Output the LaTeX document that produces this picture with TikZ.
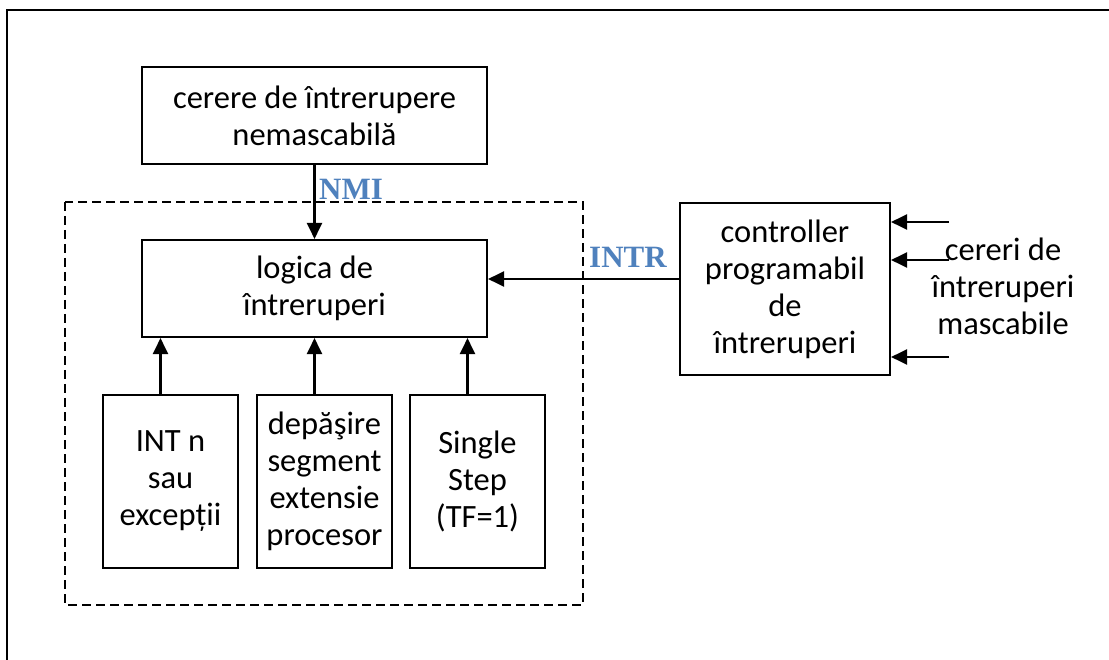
\documentclass[tikz,border=0pt]{standalone}
\usepackage{fontspec}
\setmainfont{Carlito}
\newfontfamily\lblfont{Liberation Serif}
\usetikzlibrary{arrows.meta}
\definecolor{sigblue}{HTML}{4F81BD}

\begin{document}
\begin{tikzpicture}[x=1pt, y=-1pt,
		blk/.style={draw, line width=2.1pt, align=center, inner sep=2pt,
			font=\fontsize{32.5}{37}\selectfont},
		arr/.style={line width=2.1pt, -{Triangle[length=16pt,width=15pt]}},
		sig/.style={text=sigblue, font=\lblfont\fontsize{31}{34}\selectfont\bfseries}]
		\useasboundingbox (0,0) rectangle (1109,660);
		\draw [line width=2.4pt] (7,662) -- (7,10) -- (1111,10);

		% processor frame
		\draw [line width=1.8pt, dash pattern=on 9pt off 5pt] (65,202) rectangle (583,605);

		\node [blk, minimum width=345, minimum height=97] (nmisrc) at (314.5,115.5) {cerere de întrerupere\\nemascabilă};
		\node [blk, minimum width=345, minimum height=97] (logic) at (314.5,288.5) {logica de\\întreruperi};
		\node [blk, minimum width=210, minimum height=172] (pic) at (785,289) {controller\\programabil\\de\\întreruperi};

		\node [blk, minimum width=135, minimum height=173] (intn) at (170.5,481.5) {INT n\\sau\\excepții};
		\node [blk, minimum width=135, minimum height=173] (ovf) at (324.5,481.5) {depăşire\\segment\\extensie\\procesor};
		\node [blk, minimum width=135, minimum height=173] (sstep) at (477.5,481.5) {Single\\Step\\(TF=1)};

		\draw [arr] (nmisrc.south) -- (logic.north);
		\node [sig] (nmi) at (351,189) {NMI};
		\draw [arr] ([yshift=10pt]pic.west) -- ([yshift=10pt]pic.west -| logic.east);
		\node [sig] (intr) at (628,257) {INTR};

		\draw [arr] ([xshift=-10pt]intn.north) -- ([xshift=-10pt]intn.north |- logic.south);
		\draw [arr] ([xshift=-10pt]ovf.north) -- ([xshift=-10pt]ovf.north |- logic.south);
		\draw [arr] ([xshift=-10pt]sstep.north) -- ([xshift=-10pt]sstep.north |- logic.south);

		% maskable requests
		\coordinate (in1) at (949,222);
		\coordinate (in2) at (949,260);
		\coordinate (in3) at (949,357);
		\draw [arr] (in1) -- (in1 -| pic.east);
		\draw [arr] (in2) -- (in2 -| pic.east);
		\draw [arr] (in3) -- (in3 -| pic.east);
		\node [align=center, font=\fontsize{32.5}{37}\selectfont] (reqs) at (1003,286) {cereri de\\întreruperi\\mascabile};

	\end{tikzpicture}
\end{document}
